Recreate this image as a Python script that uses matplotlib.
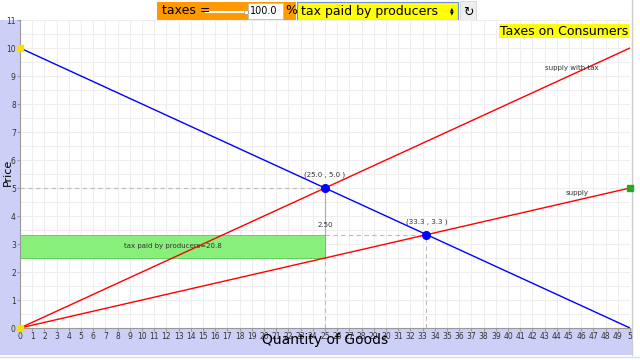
import matplotlib
matplotlib.use("Agg")
import matplotlib.pyplot as plt
from matplotlib.patches import Rectangle

# ---------------------------------------------------------------------------
# Data
# ---------------------------------------------------------------------------

quantity = [0, 50]
demand_price = [10, 0]
supply_price = [0, 5]
supply_tax_price = [0, 10]

eq_tax = (25.0, 5.0)
eq_free = (33.3, 3.33)
producer_price = 2.5
tax_paid = 20.8

x_ticks = list(range(0, 51))
x_tick_labels = [str(i) for i in range(50)] + ["5"]
y_ticks = list(range(0, 12))

BLUE = "#0000ff"
RED = "#ff0000"
BAND = "#ccd0f7"

# ---------------------------------------------------------------------------
# Figure
# ---------------------------------------------------------------------------

fig = plt.figure(figsize=(6.4, 3.6), dpi=100)
W, H = 640, 360

def px(x, y, w, h):
    return [x / W, 1 - (y + h) / H, w / W, h / H]

# background layer with the lavender axis bands
bg = fig.add_axes([0, 0, 1, 1], zorder=-1)
bg.set_xlim(0, W)
bg.set_ylim(H, 0)
bg.axis("off")
bg.add_patch(Rectangle((0, 20), 20, 335, facecolor=BAND, edgecolor="none"))
bg.add_patch(Rectangle((0, 328), 632, 27, facecolor=BAND, edgecolor="none"))
bg.plot([0, W], [357, 357], color="#dddddd", lw=1)
bg.plot([632, 632], [0, 355], color="#cccccc", lw=1)

ax = fig.add_axes(px(20, 20, 610, 308))
ax.set_xlim(0, 50)
ax.set_ylim(0, 11)
ax.set_xticks(x_ticks)
ax.set_xticklabels(x_tick_labels, fontsize=5.5, color="#333333")
ax.set_yticks(y_ticks)
ax.set_yticks([v + 0.5 for v in y_ticks[:-1]], minor=True)
ax.set_yticklabels([str(v) for v in y_ticks], fontsize=5.5, color="#333333")
ax.tick_params(length=2, pad=1, color="#999999")
ax.tick_params(which="minor", length=0)
ax.grid(True, which="both", color="#eeeeee", lw=0.8)
ax.set_axisbelow(True)
for s in ["top", "right"]:
    ax.spines[s].set_visible(False)
for s in ["left", "bottom"]:
    ax.spines[s].set_color("#999999")
    ax.spines[s].set_linewidth(0.8)

# tax rectangle
ax.add_patch(Rectangle((0, producer_price), eq_tax[0], eq_free[1] - producer_price,
                       facecolor="#88f07a", edgecolor="#55cc55", lw=0.6, zorder=2))
ax.text(eq_tax[0] / 2, (producer_price + eq_free[1]) / 2,
        f"tax paid by producers={tax_paid}", fontsize=5, ha="center", va="center",
        color="#333333", zorder=5)

# guide lines
dash = dict(color="#bbbbbb", lw=0.8, ls=(0, (4, 3)), zorder=1)
ax.plot([0, eq_tax[0]], [eq_tax[1], eq_tax[1]], **dash)
ax.plot([eq_tax[0], eq_tax[0]], [0, producer_price], **dash)
ax.plot([eq_tax[0], eq_free[0]], [eq_free[1], eq_free[1]], **dash)
ax.plot([eq_free[0], eq_free[0]], [0, eq_free[1]], **dash)
ax.plot([eq_tax[0], eq_tax[0]], [producer_price, eq_tax[1]], color="#aaaaaa", lw=0.8, zorder=1)
ax.text(eq_tax[0] - 0.6, 3.6, f"{eq_tax[1] - producer_price:.2f}", fontsize=5, color="#333333")

# curves
ax.plot(quantity, demand_price, color=BLUE, lw=1, zorder=3)
ax.plot(quantity, supply_price, color=RED, lw=1, zorder=3)
ax.plot(quantity, supply_tax_price, color=RED, lw=1, zorder=3)

ax.text(43.0, 9.2, "supply with tax", fontsize=5, color="#333333")
ax.text(44.7, 4.75, "supply", fontsize=5, color="#333333")

# handles
ax.plot([0], [10], marker="s", ms=5, color="#f5e100", clip_on=False, zorder=6)
ax.plot([0], [0], marker="s", ms=4, color="#f5e100", clip_on=False, zorder=6)
ax.plot([50], [5], marker="s", ms=4, color="#22aa22", clip_on=False, zorder=6)

# equilibria
for q, p in [eq_tax, eq_free]:
    ax.plot([q], [p], "o", ms=5.5, color=BLUE, zorder=6)
    ax.text(q, p + 0.35, f"({q:.1f} , {p:.1f} )", fontsize=5, ha="center",
            va="bottom", color="#333333", zorder=6)

ax.text(0.997, 0.985, "Taxes on Consumers", transform=ax.transAxes, fontsize=9,
        ha="right", va="top", bbox=dict(facecolor="#ffff00", edgecolor="none", pad=0.5))

fig.text(325 / W, 1 - 340 / H, "Quantity of Goods", fontsize=10, ha="center", va="center")
fig.text(8 / W, 1 - 172 / H, "Price", fontsize=8, rotation=90, ha="center", va="center")

# control bar
bg.add_patch(Rectangle((157, 2), 139, 18, facecolor="#ff9900", edgecolor="none"))
bg.text(162, 11, "taxes =", fontsize=9, va="center")
bg.plot([206, 244], [12, 12], color="#ffffff", lw=1.5)
bg.plot([246], [12], marker="o", ms=3, color="#ffffff", mec="#999999", mew=0.5)
bg.add_patch(Rectangle((248, 3), 35, 16, facecolor="#ffffff", edgecolor="#bbbbbb", lw=0.5))
bg.text(250, 11.5, "100.0", fontsize=7, va="center")
bg.text(285, 11, "%", fontsize=9, va="center")
bg.add_patch(Rectangle((297, 2), 161, 18, facecolor="#ffff00", edgecolor="#6a8fd8", lw=0.8))
bg.text(301, 11, "tax paid by producers", fontsize=9, va="center")
bg.text(452, 11, "\u25b2\n\u25bc", fontsize=3.5, va="center", ha="center", linespacing=0.9)
bg.add_patch(Rectangle((460, 1), 16, 19, facecolor="#eeeeee", edgecolor="#cccccc", lw=0.5))
bg.text(468, 12, "\u21bb", fontsize=9, va="center", ha="center")

fig.savefig("out.png", dpi=100)
